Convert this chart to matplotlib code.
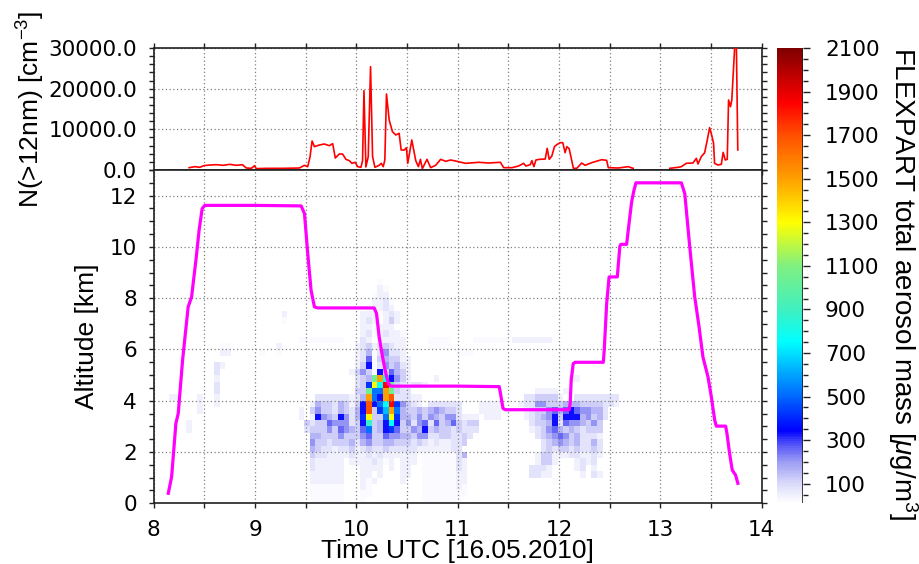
import numpy as np
import matplotlib
matplotlib.use("Agg")
import matplotlib.pyplot as plt
from matplotlib.colors import LinearSegmentedColormap, Normalize
from matplotlib.cm import ScalarMappable
from matplotlib.ticker import MultipleLocator, FuncFormatter, NullFormatter

# ---------------- data ----------------
# particle number concentration N(>12nm) [cm^-3] (top panel)
cpc_time = [8.350, 8.406, 8.455, 8.495, 8.554, 8.619, 8.685, 8.750, 8.816, 8.875,
            8.914, 8.963, 8.996, 9.012, 9.110, 9.274, 9.438, 9.487, 9.520, 9.543,
            9.563, 9.586, 9.635, 9.684, 9.733, 9.766, 9.792, 9.831, 9.864, 9.897,
            9.930, 9.956, 9.989, 10.012, 10.045, 10.061, 10.075, 10.094, 10.117, 10.140,
            10.160, 10.183, 10.225, 10.245, 10.265, 10.281, 10.297, 10.324, 10.356, 10.389,
            10.422, 10.442, 10.474, 10.494, 10.507, 10.547, 10.586, 10.612, 10.632, 10.651,
            10.697, 10.733, 10.782, 10.832, 10.881, 10.930, 10.979, 11.077, 11.208, 11.306,
            11.421, 11.454, 11.536, 11.601, 11.650, 11.673, 11.716, 11.732, 11.752, 11.772,
            11.805, 11.864, 11.883, 11.903, 11.929, 11.955, 11.978, 12.011, 12.037, 12.060,
            12.077, 12.100, 12.142, 12.175, 12.224, 12.257, 12.322, 12.421, 12.470, 12.486,
            12.585, 12.683, 12.732, 12.900, 13.093, 13.175, 13.207, 13.256, 13.322, 13.355,
            13.371, 13.404, 13.437, 13.463, 13.486, 13.502, 13.525, 13.535, 13.568, 13.601,
            13.620, 13.640, 13.660, 13.673, 13.692, 13.705, 13.735, 13.750, 13.764]
cpc_conc = [570, 820, 660, 1070, 1230, 1310, 1150, 1390, 1150, 1310,
            490, 410, 1070, 330, 410, 410, 490, 1150, 820, 3280,
            7130, 5740, 6150, 6390, 5980, 6480, 2950, 3930, 3930, 2620,
            2300, 1640, 1890, 820, 660, 2300, 19510, 740, 3280, 25410,
            3280, 660, 1150, 1640, 820, 2460, 18690, 12300, 9430, 8610,
            9020, 4920, 4920, 5490, 1640, 7380, 2300, 820, 2620, 330,
            2620, 570, 1150, 2620, 2130, 2460, 2210, 1640, 1890, 1720,
            1890, 570, 570, 980, 1640, 980, 1310, 2300, 820, 2460,
            2620, 2700, 5330, 2620, 3440, 5740, 6230, 6720, 6720, 4260,
            5740, 5250, 410, 410, 1720, 1150, 1800, 2540, 2380, 570,
            490, 820, 410, np.nan, 410, 660, 820, 1640, 1720, 2870,
            1480, 3280, 4260, 7380, 10410, 9020, 6560, 1640, 1230, 1390,
            4340, 2460, 2620, 17210, 15570, 17210, 31000, 31000, 4920]

# aircraft altitude [km] (magenta track)
alt_time = [8.144, 8.177, 8.219, 8.242, 8.285, 8.340, 8.374, 8.420, 8.448, 8.478,
            8.504, 9.000, 9.455, 9.488, 9.520, 9.553, 9.586, 9.620, 10.176, 10.199,
            10.225, 10.258, 10.291, 10.317, 10.340, 11.000, 11.410, 11.428, 11.447, 11.470,
            12.100, 12.110, 12.120, 12.140, 12.160, 12.437, 12.446, 12.470, 12.494, 12.575,
            12.600, 12.610, 12.667, 12.683, 12.716, 12.739, 12.759, 13.207, 13.241, 13.290,
            13.339, 13.382, 13.420, 13.470, 13.503, 13.536, 13.552, 13.644, 13.657, 13.683,
            13.709, 13.742, 13.765]
alt_km = [0.39, 1.04, 3.12, 3.50, 5.58, 7.66, 8.05, 9.60, 10.65, 11.49,
          11.62, 11.62, 11.60, 11.30, 9.74, 8.31, 7.66, 7.62, 7.62, 7.40,
          6.49, 5.71, 5.06, 4.67, 4.57, 4.57, 4.55, 4.15, 3.70, 3.65,
          3.65, 3.90, 4.80, 5.45, 5.50, 5.50, 5.97, 7.79, 8.83, 8.83,
          10.02, 10.10, 10.10, 10.65, 11.75, 12.20, 12.50, 12.50, 12.08, 10.00,
          8.05, 6.88, 5.71, 4.93, 4.15, 3.25, 3.01, 3.01, 2.73, 1.95,
          1.30, 1.10, 0.78]

# FLEXPART aerosol mass grid: cells of 1/18 h (columns) x 0.25 km (rows)
col_t0 = 7.985
col_dt = 1.0 / 18.0
row_dz = 0.25
n_cols, n_rows = 84, 36
# code letter -> mass value [ug/m3]
mass_levels = {'.': 25, ',': 50, ':': 80, ';': 120, '-': 165, '=': 210, '+': 260,
               '*': 330, '#': 420, 'b': 520, 'c': 640, 'C': 760, 't': 880,
               'g': 1050, 'y': 1300, 'o': 1500, 'O': 1680, 'r': 1850, 'R': 2000}
# row index -> list of (first column index, codes); blank = no value
mass_rows = {
    34: [(40, ".")],
    33: [(40, ",.")],
    32: [(39, ".,,")],
    31: [(39, ",,:.")],
    30: [(38, ".,,:,")],
    29: [(23, ","), (37, ",,,.,:,")],
    28: [(23, "."), (37, ",:, ,;,")],
    27: [(37, ",,.,,,")],
    26: [(37, ",:.,:,,."), (63, ".")],
    25: [(26, "........"), (36, ".:, ,,,,,"), (49, "...."), (57, "......"), (64, ",,,,,,,"), (81, ".")],
    24: [(12, ".."), (22, ","), (36, ",:;,:;:,,"), (49, "....")],
    23: [(12, ",,"), (19, "."), (22, "."), (36, ",:-.:=::,"), (54, "...")],
    22: [(36, ",:+.;-;;,,")],
    21: [(11, ":,"), (36, ",;*.:=;-:,")],
    20: [(11, ":"), (35, ",;=;.*;+-;,")],
    19: [(11, ","), (36, ":;-goC*=;,"), (50, ","), (74, ",,")],
    18: [(11, ":"), (36, ":;#yCrg;:,::,")],
    17: [(5, "."), (11, ":"), (36, ";;gbbog;::"), (68, ",,,, ,")],
    16: [(3, ",,"), (8, ","), (11, ","), (29, "::::::,:-ob*oO:::,,"), (66, "::;;;;,"), (75, "::::::::")],
    15: [(8, ","), (11, ","), (28, ",-;;:-;,;*O*bCr#=;:, ::::::"), (58, ",,,,"), (65, ",::==;;;---;;;;::,")],
    14: [(8, ","), (26, ", ;=;;:-;:-*O;#cob-;;-;-=-;;:"), (58, ",,,,"), (66, ",:;;=+-+*+==--:")],
    13: [(26, ", ,*=-;*=:-#y;;by#--;=;=-;==:,,,"), (59, ",,,"), (66, ",:;-=*;***-=;-:")],
    12: [(6, ","), (27, ";:;;+===:;*t;-*C*;=:=+:+;-+;:;;"), (67, ":;;-*:+==-;=;")],
    11: [(6, ","), (27, ":;;;=;+=-;+b;-*#+;;=-*;-;;:;:::"), (67, ",:;=+-;-;:;;;")],
    10: [(28, "--;;;=;;;=+;;+==--;==::;;::;:"), (68, ":;-=+=;-:::,")],
    9: [(28, "=;;:;;;-:-=;;--;;;:;:,:,,::;"), (69, ":;-=-;-::-:")],
    8: [(28, "-;::,::;,:;::;:::::,,,,,,::"), (69, ":;:;;:;::;:")],
    7: [(28, ";::,,,,:,,:,:,,,,,, ......:-"), (68, ",;;,,,::,,:,")],
    6: [(28, ":,,,,, ,,,,:,., ,,, ......:,"), (68, ",;;,   ,:,:")],
    5: [(28, ":,,,,,   ,,,, , ,,  ......:,"), (67, ":::,    ,: ,")],
    4: [(28, ",,,,,,   ,, ,   ,,  ......,,"), (67, "::,,     , :,")],
    3: [(28, ",,,,,,   ,.,    ,   ......,,"), (71, ".")],
    2: [(28, "......   ,.         ......,.")],
    1: [(28, "......   ..         ........")],
    0: [(28, "......   .          .......")],
}

# colour scale (value -> colour)
cbar_values = [10, 100, 200, 280, 340, 500, 750, 900, 1100, 1300, 1500, 1700, 1850, 2100]
cbar_colors = ['#ffffff', '#d8d8fa', '#9a9af4', '#5050f8', '#0000ff', '#0068ff', '#00ffff',
               '#40f0c0', '#80f080', '#ffff00', '#ffa000', '#ff5000', '#ff0000', '#800000']
cbar_ticks = list(range(100, 2101, 200))

# ---------------- figure ----------------
plt.rcParams['font.family'] = ['DejaVu Sans']
plt.rcParams['mathtext.fontset'] = 'custom'
plt.rcParams['mathtext.rm'] = 'Liberation Sans'
plt.rcParams['mathtext.it'] = 'Liberation Sans:italic'
plt.rcParams['mathtext.bf'] = 'Liberation Sans:bold'

W, H = 919, 564
fig = plt.figure(figsize=(W / 100, H / 100), dpi=100)


def frac(l, t, r, b):
    return [l / W, 1 - b / H, (r - l) / W, (b - t) / H]


ax_top = fig.add_axes(frac(153.7, 48, 761.7, 170))
ax = fig.add_axes(frac(153.7, 170, 761.7, 503.3))
cax = fig.add_axes(frac(777, 48, 803, 503.3))

vmin, vmax = cbar_values[0], cbar_values[-1]
norm = Normalize(vmin=vmin, vmax=vmax)
cmap = LinearSegmentedColormap.from_list(
    'flexpart', [((v - vmin) / (vmax - vmin), c) for v, c in zip(cbar_values, cbar_colors)])

grid_kw = dict(color='#808080', linestyle=(0, (1, 2)), linewidth=0.9)
tick_fs = 15.5
spine_c = '#202020'

# ---- top panel ----
ax_top.plot(cpc_time, cpc_conc, color='#ff0000', lw=1.2, zorder=3)
ax_top.set_xlim(8, 14)
ax_top.set_ylim(0, 30000)
ax_top.xaxis.set_major_locator(MultipleLocator(0.5))
ax_top.xaxis.set_major_formatter(NullFormatter())
ax_top.yaxis.set_major_locator(MultipleLocator(10000))
ax_top.yaxis.set_minor_locator(MultipleLocator(2000))
ax_top.yaxis.set_major_formatter(FuncFormatter(lambda v, p: f"{v:.1f}"))
ax_top.tick_params(which='both', direction='out', length=3.4, width=1, color=spine_c,
                   top=True, right=True, bottom=True, left=True,
                   labelbottom=False, labelsize=tick_fs, pad=8.5)
ax_top.grid(True, which='major', **grid_kw)

# ---- lower panel ----
Z = np.full((n_rows, n_cols), np.nan)
for r, segs in mass_rows.items():
    for c0, codes in segs:
        for i, ch in enumerate(codes):
            if ch != ' ':
                Z[r, c0 + i] = mass_levels[ch]
x_edges = col_t0 + np.arange(n_cols + 1) * col_dt
y_edges = np.arange(n_rows + 1) * row_dz
ax.pcolormesh(x_edges, y_edges, np.ma.masked_invalid(Z), cmap=cmap, norm=norm,
              shading='flat', zorder=1)
ax.plot(alt_time, alt_km, color='#ff00ff', lw=2.3, zorder=4, solid_joinstyle='round')
ax.set_xlim(8, 14)
ax.set_ylim(0, 13)
ax.xaxis.set_major_locator(MultipleLocator(1))
ax.xaxis.set_minor_locator(MultipleLocator(0.5))
ax.yaxis.set_major_locator(MultipleLocator(2))
ax.yaxis.set_minor_locator(MultipleLocator(0.5))
ax.tick_params(which='both', direction='out', length=3.4, width=1, color=spine_c,
               top=False, right=True, bottom=True, left=True,
               labelsize=tick_fs, pad=8.5)
ax.grid(True, which='major', **grid_kw)
ax.grid(True, which='minor', axis='x', **grid_kw)

for a in (ax_top, ax):
    for s in a.spines.values():
        s.set_linewidth(1.2)
        s.set_color(spine_c)

# ---- colour bar ----
cb = fig.colorbar(ScalarMappable(norm=norm, cmap=cmap), cax=cax, ticks=cbar_ticks)
cax.yaxis.set_minor_locator(MultipleLocator(50))
cb.outline.set_visible(False)
cax.axvline(1.0, color=spine_c, lw=1.2)
cax.tick_params(which='major', direction='out', length=5.3, width=1, color=spine_c,
                labelsize=tick_fs, pad=10.5)
cax.tick_params(which='minor', direction='out', length=3.6, width=1, color=spine_c)

# ---- axis titles ----
lab_kw = dict(family='Liberation Sans', fontsize=19)
fig.text(31 / W, 1 - 109 / H, 'N(>12nm) [cm$^{-3}$]', rotation=90,
         ha='center', va='center', **lab_kw)
fig.text(87 / W, 1 - 336.6 / H, 'Altitude [km]', rotation=90,
         ha='center', va='center', **lab_kw)
fig.text(457.7 / W, 1 - 539 / H, 'Time UTC [16.05.2010]',
         ha='center', va='top', **lab_kw)
fig.text(902.5 / W, 1 - 47 / H, 'FLEXPART total aerosol mass [$\\mu$g/m$^{3}$]',
         rotation=270, ha='center', va='top', family='Liberation Sans', fontsize=20)

fig.savefig('out.png', dpi=100)
